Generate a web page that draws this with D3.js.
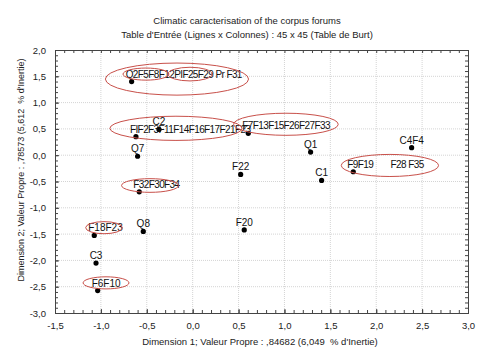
<!DOCTYPE html>
<html>
<head>
<meta charset="utf-8">
<script src="https://cdn.jsdelivr.net/npm/d3@7"></script>
<style>
  body { margin: 0; background: #fff; }
  svg { display: block; font-family: Arial, "Liberation Sans", sans-serif; }
  text { white-space: pre; }
</style>
</head>
<body>
<div id="container"></div>
<script>
// point labels and their coordinates (dimension 1, dimension 2)
var labels = ["Q2F5F8F12PIF25F29 Pr F31", "FIF2F3F11F14F16F17F21F23", "C2", "F7F13F15F26F27F33",
  "Q7", "Q1", "C4F4", "F9F19        F28 F35", "C1", "F22", "F32F30F34", "Q8", "F20",
  "F18F23", "C3", "F6F10"];
var dim1 = [-0.665, -0.618, -0.367, 0.606, -0.60, 1.285, 2.386, 1.75, 1.405, 0.523,
  -0.582, -0.538, 0.562, -1.072, -1.053, -1.035];
var dim2 = [1.40, 0.353, 0.49, 0.416, -0.02, 0.059, 0.143, -0.315, -0.48, -0.366,
  -0.697, -1.449, -1.42, -1.525, -2.05, -2.574];

// hand drawn red rings (centre x, centre y, half width, half height in axis units)
var ringX = [-0.171, -0.509, -0.029, -0.182, 1.016, 2.149, -0.465, -0.966, -0.944];
var ringY = [1.447, 1.542, 1.542, 0.511, 0.588, -0.195, -0.576, -1.378, -2.427];
var ringRx = [0.78, 0.25, 0.24, 0.72, 0.57, 0.53, 0.31, 0.20, 0.25];
var ringRy = [0.305, 0.115, 0.13, 0.23, 0.21, 0.21, 0.13, 0.115, 0.115];

var xTicks = [-1.5, -1.0, -0.5, 0.0, 0.5, 1.0, 1.5, 2.0, 2.5, 3.0];
var yTicks = [2.0, 1.5, 1.0, 0.5, 0.0, -0.5, -1.0, -1.5, -2.0, -2.5, -3.0];

var title1 = "Climatic caracterisation of the corpus forums";
var title2 = "Table d'Entrée (Lignes x Colonnes) : 45 x 45 (Table de Burt)";
var xTitle = "Dimension 1; Valeur Propre : ,84682 (6,049  % d'Inertie)";
var yTitle = "Dimension 2; Valeur Propre : ,78573 (5,612  % d'Inertie)";

var W = 480, H = 350;
var pL = 55, pR = 468, pT = 50, pB = 313;

var fr = d3.formatLocale({decimal: ",", thousands: ".", grouping: [3], currency: ["", ""], minus: "-"});
var fmt = fr.format(".1f");

var x = d3.scaleLinear().domain([-1.5, 3.0]).range([pL, pR]);
var y = d3.scaleLinear().domain([-3.0, 2.0]).range([pB, pT]);

var svg = d3.select("#container").append("svg")
    .attr("width", W)
    .attr("height", H);

// titles
svg.append("text").attr("x", 247).attr("y", 24).attr("text-anchor", "middle")
  .style("font-size", "9.5px").attr("fill", "#222").text(title1);
svg.append("text").attr("x", 247).attr("y", 38).attr("text-anchor", "middle")
  .style("font-size", "9.5px").attr("fill", "#222").text(title2);

// grid
var grid = svg.append("g").attr("stroke", "#d4d4d4").attr("stroke-dasharray", "1,1");
grid.selectAll(".gx").data(xTicks.slice(1, -1)).enter().append("line")
  .attr("x1", function(d) { return x(d); }).attr("x2", function(d) { return x(d); })
  .attr("y1", pT).attr("y2", pB);
grid.selectAll(".gy").data(yTicks.slice(1, -1)).enter().append("line")
  .attr("y1", function(d) { return y(d); }).attr("y2", function(d) { return y(d); })
  .attr("x1", pL).attr("x2", pR);

// minor ticks every 0.1, inside the frame, on all sides
var minorX = d3.range(-15, 31).map(function(i) { return i / 10; });
var minorY = d3.range(-30, 21).map(function(i) { return i / 10; });

svg.append("g").attr("transform", "translate(0," + pB + ")")
  .call(d3.axisBottom(x).tickValues(minorX).tickSize(-3).tickFormat(""));
svg.append("g").attr("transform", "translate(0," + pT + ")")
  .call(d3.axisTop(x).tickValues(minorX).tickSize(-3).tickFormat(""));
svg.append("g").attr("transform", "translate(" + pL + ",0)")
  .call(d3.axisLeft(y).tickValues(minorY).tickSize(-3).tickFormat(""));
svg.append("g").attr("transform", "translate(" + pR + ",0)")
  .call(d3.axisRight(y).tickValues(minorY).tickSize(-3).tickFormat(""));

// labelled axes
var xa = svg.append("g").attr("transform", "translate(0," + pB + ")")
  .call(d3.axisBottom(x).tickValues(xTicks).tickSize(-4).tickPadding(9).tickFormat(fmt));
var ya = svg.append("g").attr("transform", "translate(" + pL + ",0)")
  .call(d3.axisLeft(y).tickValues(yTicks).tickSize(-4).tickPadding(9).tickFormat(fmt));
svg.selectAll(".domain").attr("stroke", "#444");
svg.selectAll(".tick line").attr("stroke", "#444");
[xa, ya].forEach(function(a) {
  a.selectAll("text").style("font-size", "9.5px").attr("fill", "#222")
    .style("font-family", "Arial, 'Liberation Sans', sans-serif");
});

// axis titles
svg.append("text").attr("x", 260).attr("y", 345).attr("text-anchor", "middle")
  .style("font-size", "9.5px").attr("fill", "#222").text(xTitle);
svg.append("text").attr("transform", "translate(24,170) rotate(-90)").attr("text-anchor", "middle")
  .style("font-size", "9px").attr("fill", "#222").text(yTitle);

var idx = d3.range(labels.length);

// points
svg.selectAll("circle.pt").data(idx).enter().append("circle")
  .attr("class", "pt")
  .attr("cx", function(i) { return x(dim1[i]); })
  .attr("cy", function(i) { return y(dim2[i]); })
  .attr("r", 2.6)
  .attr("fill", "#000");

svg.selectAll("text.lbl").data(idx).enter().append("text")
  .attr("class", "lbl")
  .attr("x", function(i) { return labels[i].length > 4 ? x(dim1[i]) - 6 : x(dim1[i]); })
  .attr("y", function(i) { return y(dim2[i]) - 4; })
  .attr("text-anchor", function(i) { return labels[i].length > 4 ? "start" : "middle"; })
  .style("font-size", "10px")
  .style("letter-spacing", function(i) { return labels[i].length > 6 ? "-0.6px" : "0px"; })
  .attr("fill", "#111")
  .text(function(i) { return labels[i]; });

// red rings
svg.selectAll("ellipse").data(ringX).enter().append("ellipse")
  .attr("cx", function(d, i) { return x(ringX[i]); })
  .attr("cy", function(d, i) { return y(ringY[i]); })
  .attr("rx", function(d, i) { return x(ringRx[i]) - x(0); })
  .attr("ry", function(d, i) { return y(0) - y(ringRy[i]); })
  .attr("fill", "none")
  .attr("stroke", "#c8504a")
  .attr("stroke-width", 1);
</script>
</body>
</html>
